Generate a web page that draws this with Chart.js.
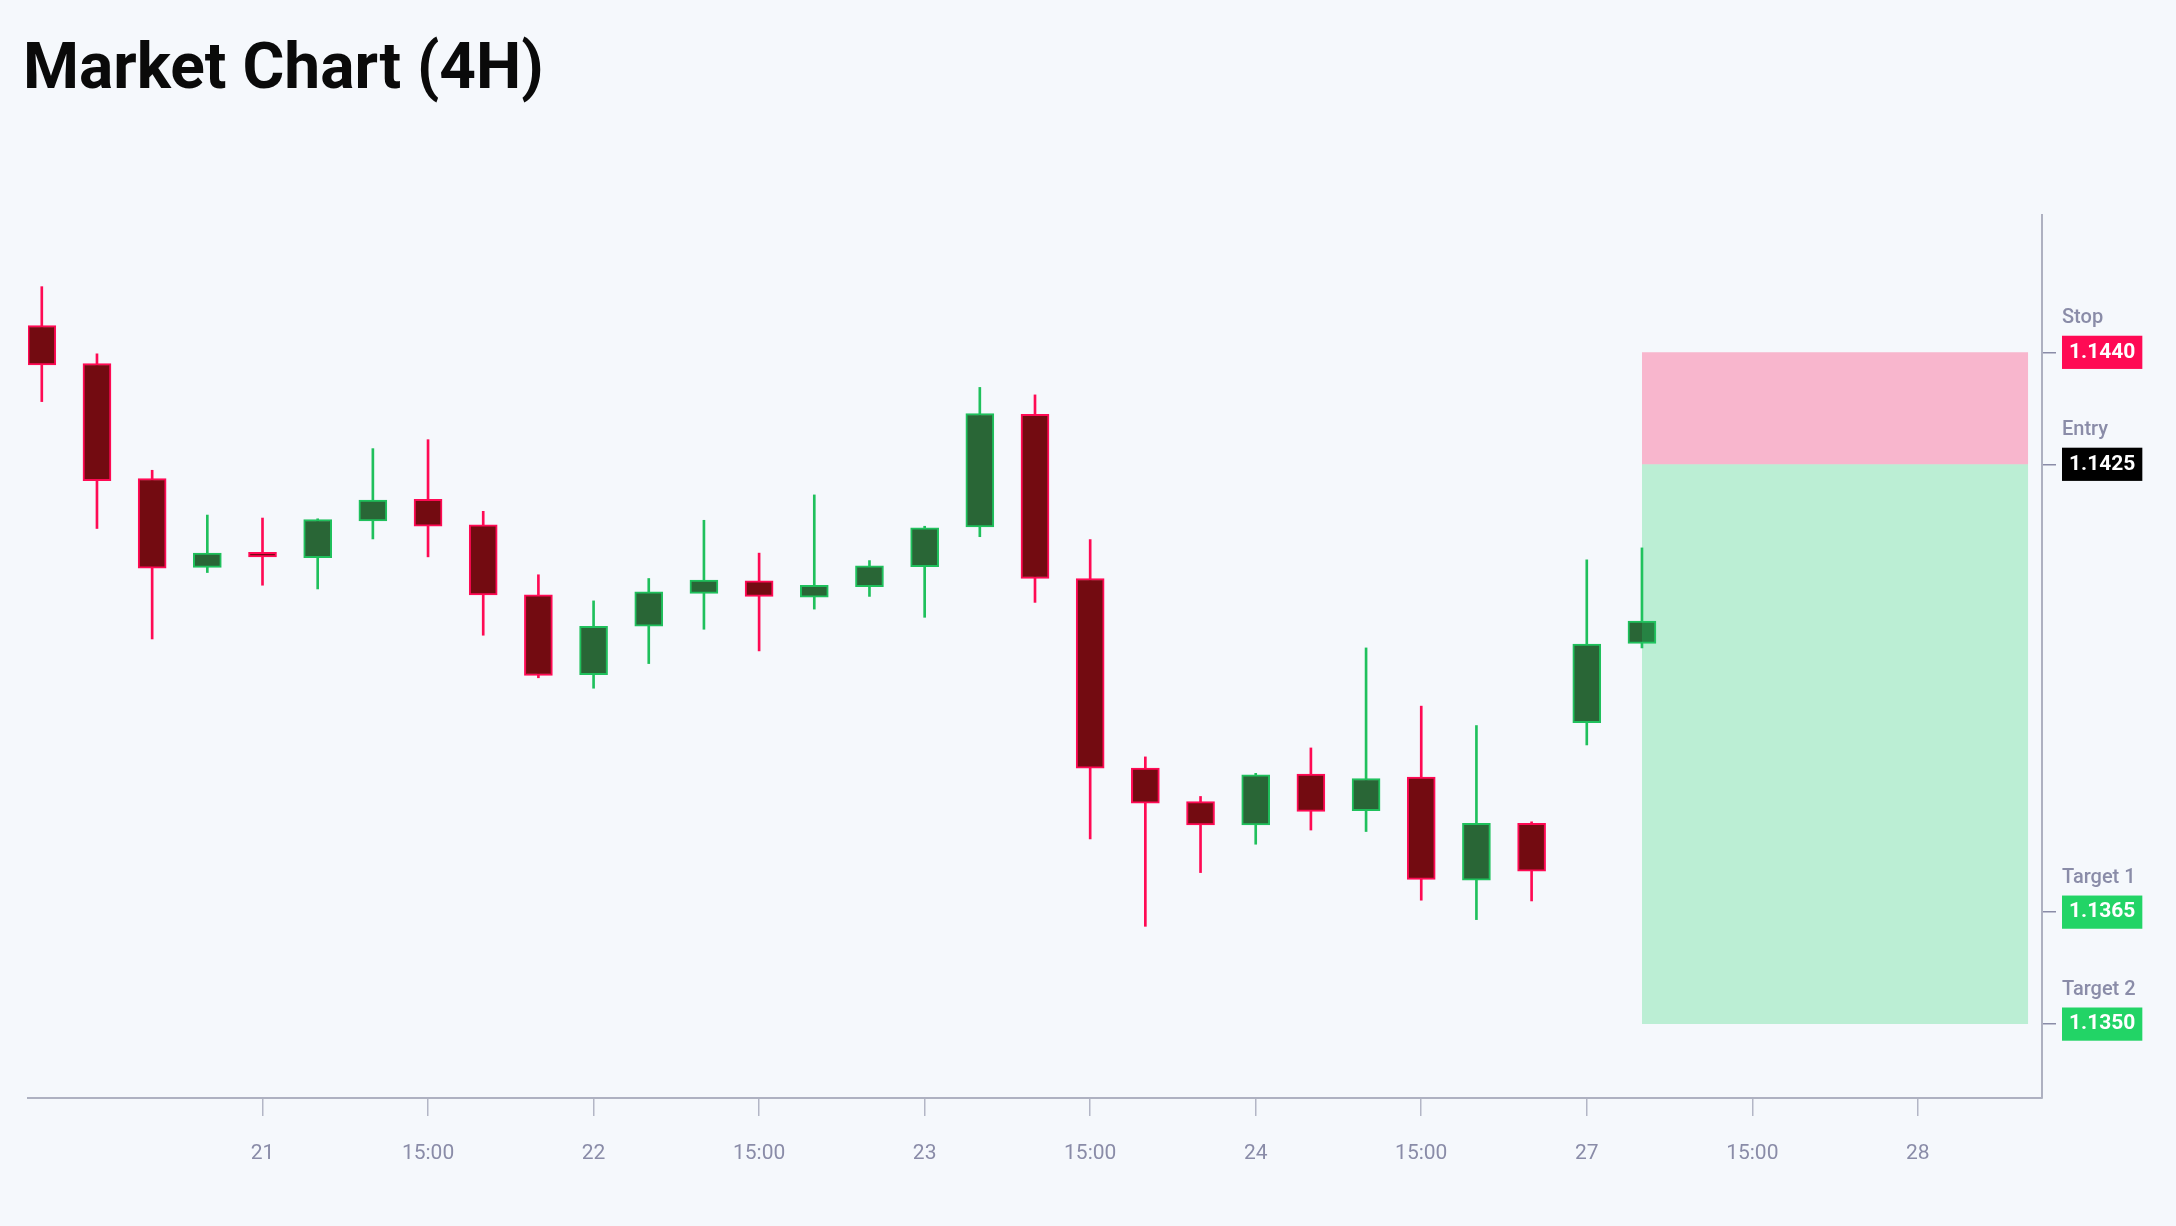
<!DOCTYPE html>
<html lang="en">
  <head>
    <meta charset="UTF-8" />
    <title>Market Chart (4H)</title>
    <script src="https://cdn.jsdelivr.net/npm/chart.js@4.4.1/dist/chart.umd.min.js"></script>
    <style>
      html, body { margin: 0; padding: 0; background: #f5f8fc; overflow: hidden; }
      h1 {
        position: absolute; left: 23px; top: 35px; margin: 0;
        font: bold 64px Roboto, sans-serif; line-height: 1; color: #0a0a0a;
      }
      canvas { position: absolute; left: 0; top: 0; }
    </style>
  </head>
  <body>
    <h1>Market Chart (4H)</h1>
    <canvas id="myChart" width="2176" height="1226"></canvas>
    <script>
      // 4H candles
      const opens = [1.14436, 1.14385, 1.14231, 1.14112, 1.14132, 1.14125, 1.14174, 1.14203, 1.14169, 1.14075,
        1.13968, 1.14033, 1.14077, 1.14094, 1.14072, 1.14086, 1.14113, 1.14166, 1.14317, 1.14097,
        1.13843, 1.13798, 1.13767, 1.13835, 1.13786, 1.13831, 1.13693, 1.13769, 1.13904, 1.14010];
      const highs = [1.14488, 1.14398, 1.14242, 1.14182, 1.14178, 1.14177, 1.14271, 1.14283, 1.14187, 1.14102,
        1.14067, 1.14097, 1.14175, 1.14131, 1.14209, 1.14121, 1.14167, 1.14353, 1.14343, 1.14149,
        1.13858, 1.13805, 1.13836, 1.13870, 1.14004, 1.13926, 1.13900, 1.13771, 1.14122, 1.14138];
      const lows = [1.14334, 1.14164, 1.14016, 1.14105, 1.14088, 1.14083, 1.14150, 1.14126, 1.14021, 1.13964,
        1.13950, 1.13983, 1.14029, 1.14000, 1.14056, 1.14073, 1.14045, 1.14153, 1.14065, 1.13748,
        1.13631, 1.13703, 1.13741, 1.13760, 1.13758, 1.13666, 1.13640, 1.13665, 1.13874, 1.14004];
      const closes = [1.14383, 1.14228, 1.14111, 1.14131, 1.14126, 1.14176, 1.14202, 1.14167, 1.14075, 1.13967,
        1.14033, 1.14079, 1.14095, 1.14073, 1.14088, 1.14114, 1.14165, 1.14318, 1.14097, 1.13843,
        1.13796, 1.13767, 1.13834, 1.13785, 1.13829, 1.13694, 1.13769, 1.13705, 1.14009, 1.14040];

      // x axis labels (candle index -> label)
      const tickIndex = [4, 7, 10, 13, 16, 19, 22, 25, 28, 31, 34];
      const tickLabels = ["21", "15:00", "22", "15:00", "23", "15:00", "24", "15:00", "27", "15:00", "28"];

      // trade levels
      const levelNames = ["Stop", "Entry", "Target 1", "Target 2"];
      const levelValues = [1.1440, 1.1425, 1.1365, 1.1350];
      const levelColors = ["#ff0a54", "#000000", "#22d466", "#22d466"];
      const zoneStart = 29;
      const zoneEnd = 36;

      const upBody = "#296636", upLine = "#1fc05c";
      const downBody = "#730b11", downLine = "#ff0a54";
      const isUp = opens.map((o, i) => closes[i] >= o);

      const bodies = opens.map((o, i) => ({ x: i, y: [o, closes[i]] }));
      const wicks = lows.map((l, i) => ({ x: i, y: [l, highs[i]] }));

      const levelTitles = {
        id: "levelTitles",
        afterDraw(chart) {
          const { ctx, scales } = chart;
          ctx.save();
          ctx.font = "500 20px Roboto, sans-serif";
          ctx.fillStyle = "#8a8ca8";
          ctx.textBaseline = "middle";
          ctx.textAlign = "left";
          levelNames.forEach((name, i) => {
            const y = scales.y.getPixelForValue(levelValues[i]);
            ctx.fillText(name, scales.y.left + 20, y - 34);
          });
          ctx.restore();
        },
      };

      const ctx = document.getElementById("myChart").getContext("2d");
      new Chart(ctx, {
        type: "bar",
        data: {
          datasets: [
            {
              label: "stop zone",
              type: "line",
              data: [{ x: zoneStart, y: levelValues[0] }, { x: zoneEnd, y: levelValues[0] }],
              borderWidth: 0,
              pointRadius: 0,
              fill: { value: levelValues[1] },
              backgroundColor: "rgba(255, 10, 84, 0.28)",
              order: 0,
            },
            {
              label: "target zone",
              type: "line",
              data: [{ x: zoneStart, y: levelValues[3] }, { x: zoneEnd, y: levelValues[3] }],
              borderWidth: 0,
              pointRadius: 0,
              fill: { value: levelValues[1] },
              backgroundColor: "rgba(34, 212, 102, 0.27)",
              order: 0,
            },
            {
              label: "body",
              data: bodies,
              backgroundColor: isUp.map((u) => (u ? upBody : downBody)),
              borderColor: isUp.map((u) => (u ? upLine : downLine)),
              borderWidth: 2,
              borderSkipped: false,
              barThickness: 28,
              minBarLength: 3,
              order: 1,
            },
            {
              label: "wick",
              data: wicks,
              backgroundColor: isUp.map((u) => (u ? upLine : downLine)),
              borderWidth: 0,
              barThickness: 2,
              order: 2,
            },
          ],
        },
        options: {
          responsive: false,
          devicePixelRatio: 1,
          animation: false,
          grouped: false,
          layout: { padding: { left: 28, top: 215, right: 0, bottom: 0 } },
          plugins: {
            legend: { display: false },
            tooltip: { enabled: false },
          },
          scales: {
            x: {
              type: "linear",
              min: -0.25,
              max: 36.25,
              offset: false,
              afterBuildTicks: (scale) => {
                scale.ticks = tickIndex.map((v) => ({ value: v }));
              },
              afterFit: (scale) => {
                scale.height = 128;
              },
              ticks: {
                autoSkip: false,
                maxRotation: 0,
                padding: 25,
                color: "#8a8ca8",
                font: { family: "Roboto", size: 21 },
                callback: (value) => tickLabels[tickIndex.indexOf(value)],
              },
              grid: {
                offset: false,
                drawOnChartArea: false,
                drawTicks: true,
                tickLength: 18,
                lineWidth: 1.5,
                color: "#b3b6c6",
              },
              border: { display: true, color: "#aeb1c1", width: 2 },
            },
            y: {
              position: "right",
              min: 1.13401,
              max: 1.14584,
              afterBuildTicks: (scale) => {
                scale.ticks = levelValues.map((v) => ({ value: v }));
              },
              afterFit: (scale) => {
                scale.width = 134;
              },
              ticks: {
                padding: 13,
                color: "#ffffff",
                font: { family: "Roboto", size: 21, weight: "bold" },
                showLabelBackdrop: true,
                backdropColor: (c) => levelColors[c.index],
                backdropPadding: { left: 7, right: 7, top: 4, bottom: 4 },
                callback: (value) => value.toFixed(4),
              },
              grid: {
                drawOnChartArea: false,
                drawTicks: true,
                tickLength: 14,
                lineWidth: 1.5,
                color: "#8a8ca8",
              },
              border: { display: true, color: "#aeb1c1", width: 2 },
            },
          },
        },
        plugins: [levelTitles],
      });
    </script>
  </body>
</html>
